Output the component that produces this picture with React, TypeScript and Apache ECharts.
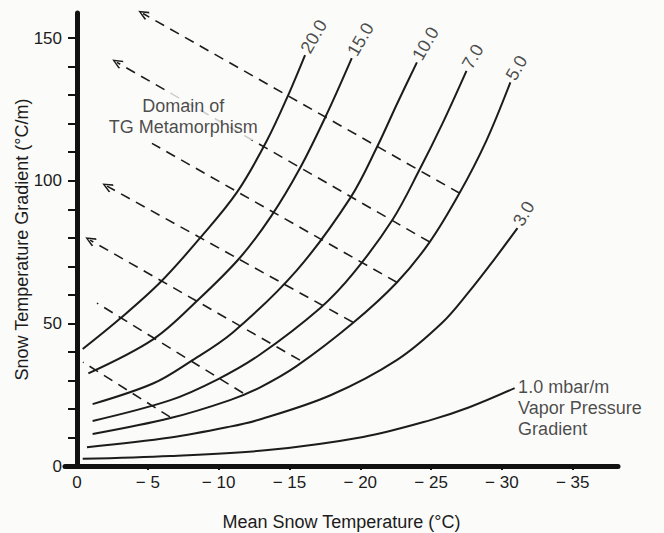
import React, { useEffect, useRef } from "react";
import * as echarts from "echarts";

// Mean snow temperature (°C) vs snow temperature gradient (°C/m)
// Curves of constant vapor pressure gradient (mbar/m)
const curveNames = ["20.0", "15.0", "10.0", "7.0", "5.0", "3.0", "1.0"];
const curve20 = [[-0.4, 41], [-3.0, 51.5], [-5.9, 64.5], [-8.7, 80], [-11.3, 96], [-13.4, 114], [-15.0, 131], [-16.1, 144]];
const curve15 = [[-0.8, 32.5], [-5.4, 44.5], [-8.5, 58], [-11.5, 73], [-13.7, 87.5], [-15.7, 104], [-17.6, 123], [-19.4, 143]];
const curve10 = [[-1.1, 21.7], [-5.4, 29], [-8.0, 36.6], [-11.0, 46.8], [-15.5, 68.5], [-19.3, 94], [-21.2, 112], [-22.6, 127], [-24.0, 141.5]];
const curve7 = [[-1.1, 15.8], [-6.6, 23.1], [-9.9, 30.3], [-12.9, 39], [-17.2, 55.5], [-19.5, 67.5], [-22.3, 86.5], [-24.2, 104], [-25.8, 120], [-27.5, 138.5]];
const curve5 = [[-1.1, 11.2], [-6.6, 16.8], [-10.8, 23.1], [-12.9, 27.5], [-15.5, 35], [-19.5, 50.2], [-22.6, 64.4], [-24.9, 78.5], [-27.0, 95.6], [-28.9, 114], [-30.6, 134.5]];
const curve3 = [[-0.7, 6.6], [-6.6, 10], [-10.8, 13.8], [-12.9, 16.3], [-17.9, 24.8], [-22.6, 37.2], [-25.8, 50.3], [-27.7, 61.2], [-29.4, 72], [-31.1, 83.4]];
const curve1 = [[-0.4, 2.5], [-6.6, 3.5], [-13.3, 5.5], [-20.2, 10.2], [-24.9, 16], [-27.7, 20.6], [-30.9, 27.3]];
const curves = [curve20, curve15, curve10, curve7, curve5, curve3, curve1];
const lastCurveNote = "1.0 mbar/m\nVapor Pressure\nGradient";

// Dashed lines: [upper-left start, lower-right end on the 5.0 curve]
const dashStarts = [[-4.66, 158.6], [-2.82, 141.5], [-5.29, 113.1], [-2.12, 98.1], [-0.92, 79.2], [-1.41, 57.1], [-0.42, 36.4]];
const dashEnds = [[-27.03, 95.6], [-24.91, 78.5], [-22.58, 64.4], [-19.48, 50.4], [-15.74, 37.1], [-11.72, 25.6], [-6.56, 17.2]];
const dashArrows = [true, true, false, true, true, false, false];

const domainNote = "Domain of\nTG Metamorphism";
const domainNoteAt = [-7.5, 122.6];

const xTickValues = [0, -5, -10, -15, -20, -25, -30, -35];
const yTickValues = [0, 10, 20, 30, 40, 50, 60, 70, 80, 90, 100, 110, 120, 130, 140, 150];
const yLabelValues = [0, 50, 100, 150];

const X_MIN = -38.2;
const X_MAX = 0.85;
const GRID_LEFT = 65;
const GRID_RIGHT = 46;

const FONT = "'Liberation Sans', Arial, Helvetica, sans-serif";
const INK = "#1c1c1c";
const BG = "#fbfbf9";
const ARROW = "path://M5,0 L10,9 L8.6,10 L5,3 L1.4,10 L0,9 Z";

export default function App() {
  const ref = useRef<HTMLDivElement>(null);
  useEffect(() => {
    if (!ref.current) return;
    const chart = echarts.init(ref.current, null, { renderer: "svg" });
    // the y axis stands at x = 0, inside the grid's left edge
    const pxPerUnit = (664 - GRID_LEFT - GRID_RIGHT) / (X_MAX - X_MIN);
    const yAxisOffset = -X_MAX * pxPerUnit;
    const curveSeries = curves.map((c, i) => ({
      type: "line",
      name: curveNames[i],
      data: c,
      showSymbol: false,
      smooth: 0.35,
      silent: true,
      lineStyle: { color: INK, width: 2 },
      z: 3,
    }));
    const labelData = curves.map((c, i) => {
      const last = c[c.length - 1];
      if (i === curves.length - 1) {
        return {
          value: last,
          label: {
            show: true,
            formatter: lastCurveNote,
            position: "right",
            distance: 3,
            align: "left",
            verticalAlign: "top",
            offset: [0, -12],
            lineHeight: 21,
            fontSize: 18,
            color: INK,
            fontFamily: FONT,
          },
        };
      }
      return {
        value: last,
        label: {
          show: true,
          formatter: curveNames[i],
          position: "top",
          distance: 3,
          rotate: 60,
          align: "left",
          verticalAlign: "middle",
          fontSize: 18,
          color: INK,
          fontFamily: FONT,
        },
      };
    });
    chart.setOption({
      animation: false,
      backgroundColor: BG,
      textStyle: { fontFamily: FONT, color: INK },
      grid: { left: GRID_LEFT, right: GRID_RIGHT, top: 13, bottom: 67, containLabel: false, outerBoundsMode: "none" },
      xAxis: {
        type: "value",
        min: X_MIN,
        max: X_MAX,
        inverse: true,
        splitLine: { show: false },
        axisLine: { show: true, onZero: false, lineStyle: { color: "#111", width: 5 } },
        axisTick: {
          show: true,
          customValues: xTickValues.slice(1),
          length: 4,
          lineStyle: { color: "#111", width: 2 },
        },
        axisLabel: {
          customValues: xTickValues,
          formatter: (v: number) => (v === 0 ? "0" : "\u2212 " + Math.abs(v)),
          fontSize: 17,
          color: INK,
          margin: 8,
          fontFamily: FONT,
        },
        name: "Mean Snow Temperature (°C)",
        nameLocation: "middle",
        nameGap: 47,
        nameMoveOverlap: false,
        nameTextStyle: { fontSize: 18, color: INK, fontFamily: FONT },
      },
      yAxis: {
        type: "value",
        min: 0,
        max: 158.8,
        offset: yAxisOffset,
        splitLine: { show: false },
        axisLine: { show: true, onZero: false, lineStyle: { color: "#111", width: 5 } },
        axisTick: {
          show: true,
          customValues: yTickValues,
          length: 9,
          lineStyle: { color: "#111", width: 2 },
        },
        axisLabel: {
          customValues: yLabelValues,
          fontSize: 17,
          color: INK,
          margin: 15,
          fontFamily: FONT,
        },
        name: "Snow Temperature Gradient (°C/m)",
        nameLocation: "middle",
        nameGap: 46,
        nameMoveOverlap: false,
        nameTextStyle: { fontSize: 18, color: INK, fontFamily: FONT },
      },
      series: [
        {
          type: "line",
          data: [],
          clip: false,
          silent: true,
          markLine: {
            silent: true,
            animation: false,
            label: { show: false },
            symbolSize: [9, 11],
            lineStyle: { color: INK, width: 1.6, type: [10, 7] },
            emphasis: { disabled: true },
            data: dashStarts.map((s, i) => [
              { coord: dashEnds[i], symbol: "none" },
              { coord: s, symbol: dashArrows[i] ? ARROW : "none" },
            ]),
          },
        },
        ...curveSeries,
        {
          type: "scatter",
          data: labelData,
          symbolSize: 1,
          itemStyle: { color: "rgba(0,0,0,0)" },
          silent: true,
          z: 6,
        },
        {
          type: "scatter",
          data: [
            {
              value: domainNoteAt,
              label: {
                show: true,
                formatter: domainNote,
                position: "inside",
                align: "center",
                verticalAlign: "middle",
                fontSize: 18,
                lineHeight: 21,
                color: INK,
                fontFamily: FONT,
                backgroundColor: BG,
                padding: [3, 4],
              },
            },
          ],
          symbolSize: 1,
          itemStyle: { color: "rgba(0,0,0,0)" },
          silent: true,
          z: 8,
        },
      ],
    });
    return () => chart.dispose();
  }, []);
  return (
    <div
      ref={ref}
      style={{ position: "fixed", left: 0, top: 0, width: 664, height: 533 }}
    />
  );
}
